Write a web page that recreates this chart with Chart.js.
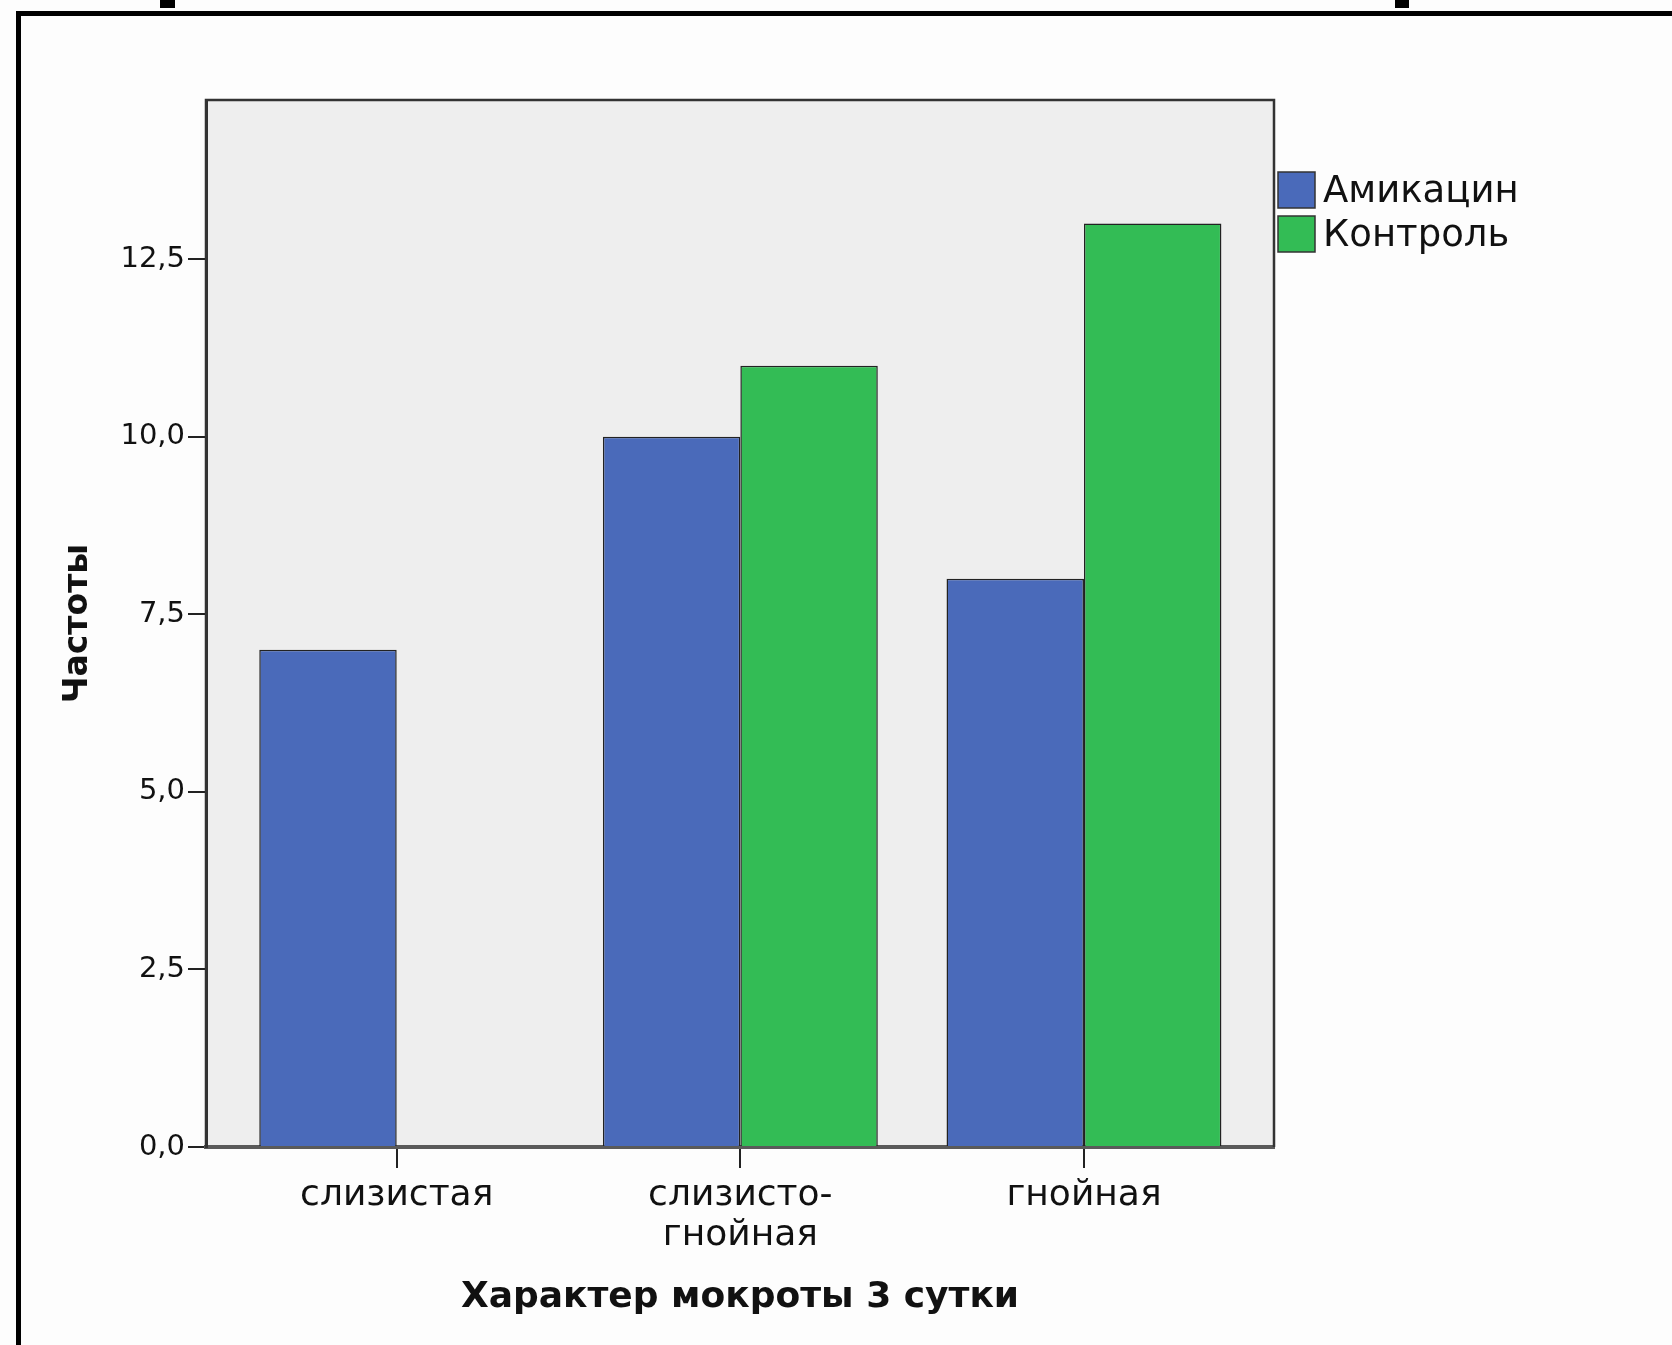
<!DOCTYPE html>
<html lang="ru">
<head>
<meta charset="UTF-8">
<title>Характер мокроты 3 сутки</title>
<script src="https://cdn.jsdelivr.net/npm/chart.js"></script>
<style>
  html, body { margin: 0; padding: 0; background: #fff; }
  canvas { display: block; }
</style>
</head>
<body>
<canvas id="sputumChart" width="1672" height="1345"></canvas>
<script>
// data
const categories = ['слизистая', ['слизисто-', 'гнойная'], 'гнойная'];
const seriesNames = ['Амикацин', 'Контроль'];
const amikacin = [7, 10, 8];
const control = [null, 11, 13];
const yTickValues = [0, 2.5, 5, 7.5, 10, 12.5];

const colors = ['#4a6aba', '#33bc55'];
const FONT = '"DejaVu Sans", "Noto Sans", sans-serif';

// white page, black frame bits, grey plot area
const framePlugin = {
  id: 'frame',
  beforeDraw(chart) {
    const { ctx, chartArea: a } = chart;
    ctx.save();
    ctx.fillStyle = '#fdfdfd';
    ctx.fillRect(0, 0, chart.width, chart.height);
    ctx.fillStyle = '#000';
    ctx.fillRect(16, 11, chart.width - 16, 5);
    ctx.fillRect(16, 11, 5, chart.height - 11);
    ctx.fillRect(160, 0, 15, 8);
    ctx.fillRect(1395, 0, 14, 8);
    ctx.fillStyle = '#eeeeee';
    ctx.fillRect(a.left, a.top, a.right - a.left, a.bottom - a.top);
    ctx.restore();
  },
  afterDraw(chart) {
    const { ctx, chartArea: a } = chart;
    ctx.save();
    ctx.strokeStyle = '#333';
    ctx.lineWidth = 2.5;
    ctx.beginPath();
    ctx.moveTo(a.left, a.bottom);
    ctx.lineTo(a.left, a.top);
    ctx.lineTo(a.right, a.top);
    ctx.lineTo(a.right, a.bottom);
    ctx.stroke();
    ctx.restore();
  }
};

// legend to the right of the plot, like the SPSS output
const sideLegend = {
  id: 'sideLegend',
  afterDraw(chart) {
    const { ctx, chartArea: a } = chart;
    ctx.save();
    ctx.font = '37px ' + FONT;
    ctx.textBaseline = 'middle';
    chart.data.datasets.forEach((ds, i) => {
      const x = a.right + 4, y = 172 + i * 44;
      ctx.fillStyle = ds.backgroundColor;
      ctx.fillRect(x, y, 37, 36);
      ctx.strokeStyle = '#333';
      ctx.lineWidth = 1.5;
      ctx.strokeRect(x, y, 37, 36);
      ctx.fillStyle = '#111';
      ctx.fillText(ds.label, x + 45, y + 20);
    });
    ctx.restore();
  }
};

const ctx = document.getElementById('sputumChart').getContext('2d');
new Chart(ctx, {
  type: 'bar',
  data: {
    datasets: [
      {
        label: seriesNames[0],
        data: amikacin.map((v, i) => ({ x: i, y: v })),
        backgroundColor: colors[0],
        borderColor: '#222',
        borderWidth: 1.5
      },
      {
        label: seriesNames[1],
        data: control.map((v, i) => ({ x: i, y: v })),
        backgroundColor: colors[1],
        borderColor: '#222',
        borderWidth: 1.5
      }
    ]
  },
  options: {
    responsive: false,
    animation: false,
    categoryPercentage: 0.8,
    barPercentage: 1.0,
    layout: { padding: { left: 0, top: 100, right: 398, bottom: 0 } },
    plugins: {
      legend: { display: false },
      tooltip: { enabled: false }
    },
    scales: {
      x: {
        type: 'linear',
        min: -0.555,
        max: 2.553,
        offset: false,
        afterBuildTicks: (scale) => {
          scale.ticks = categories.map((c, i) => ({ value: i }));
        },
        afterFit: (scale) => { scale.height = 198; },
        grid: { offset: false, drawOnChartArea: false, drawTicks: true, tickLength: 21, color: '#222', lineWidth: 2 },
        border: { display: true, color: '#5a5a5a', width: 4 },
        ticks: {
          autoSkip: false,
          maxRotation: 0,
          padding: 8,
          color: '#111',
          font: { family: FONT, size: 36, lineHeight: 1.1 },
          callback: (value) => categories[value]
        },
        title: {
          display: true,
          text: 'Характер мокроты 3 сутки',
          color: '#111',
          font: { family: FONT, size: 36, weight: 'bold' },
          padding: { top: 0, bottom: 26 }
        }
      },
      y: {
        min: 0,
        max: 14.74,
        afterBuildTicks: (scale) => {
          scale.ticks = yTickValues.map(v => ({ value: v }));
        },
        afterFit: (scale) => { scale.width = 206; },
        grid: { drawOnChartArea: false, drawTicks: true, tickLength: 18, color: '#222', lineWidth: 2 },
        border: { display: true, color: '#333', width: 3 },
        ticks: {
          padding: 3,
          color: '#111',
          font: { family: FONT, size: 29 },
          callback: (value) => value.toFixed(1).replace('.', ',')
        },
        title: {
          display: true,
          text: 'Частоты',
          color: '#111',
          font: { family: FONT, size: 33, weight: 'bold' },
          padding: { top: 59, bottom: 0 }
        }
      }
    }
  },
  plugins: [framePlugin, sideLegend]
});
</script>
</body>
</html>
